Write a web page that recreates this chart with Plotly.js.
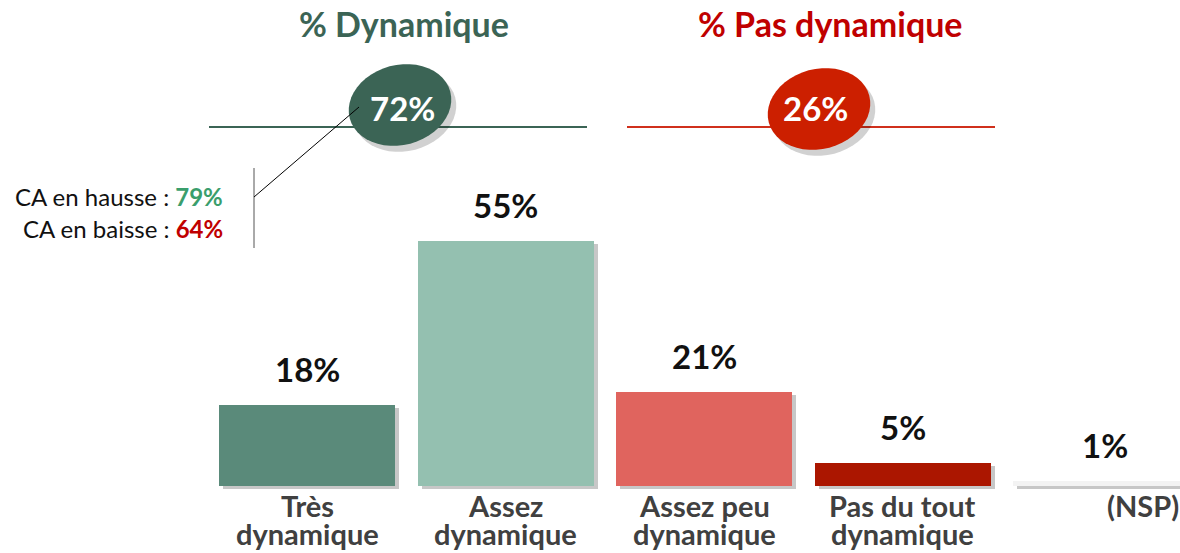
<!DOCTYPE html>
<html><head><meta charset="utf-8">
<script src="https://cdn.plot.ly/plotly-3.0.1.min.js"></script>
<style>html,body{margin:0;padding:0;background:#fff}#chart{width:1180px;height:553px}</style>
</head><body><div id="chart"></div>
<script>
const categories = ['Très<br>dynamique','Assez<br>dynamique','Assez peu<br>dynamique','Pas du tout<br>dynamique','(NSP)'];
const values = [18,55,21,5,1];
const barColors = ['#5a8a7a','#94c0b0','#e0645e','#ab1600','#f3f3f3'];
const groupTitles = ['% Dynamique','% Pas dynamique'];
const groupTotals = [72,26];
const groupTitleColors = ['#3b6455','#c00000'];
const groupFillColors = ['#3b6455','#cc1f00'];
const groupLineColors = ['#3b6455','#d0301c'];
const caLabels = ['CA en hausse : ','CA en baisse : '];
const caValues = [79,64];
const caColors = ['#3a9e6c','#c00000'];

const W = 1180, H = 553;
const FONT = 'Lato, "Open Sans", sans-serif';
const s = 198.6;               // px per category
const xa = -307 / s, xb = xa + W / s;
const ys = 4.45;               // px per percent
const ya = -67.5 / ys, yb = ya + H / ys;
const px = x => x / W, py = y => 1 - y / H;

const xs = values.map((_, i) => i);

// shadow on base axes (drawn first), real bars on overlay axes (drawn on top)
const shadow = {
  type: 'bar', x: xs, y: values, width: 0.886, xaxis: 'x', yaxis: 'y',
  marker: {color: 'rgba(0,0,0,0.22)'}, hoverinfo: 'skip', showlegend: false
};
const bars = {
  type: 'bar', x: xs, y: values, width: 0.886, xaxis: 'x2', yaxis: 'y2',
  marker: {color: barColors}, hoverinfo: 'skip', showlegend: false
};

function ellipsePath(cx, cy, rx, ry, angDeg) {
  const a = angDeg * Math.PI / 180, n = 48;
  let d = '';
  for (let k = 0; k <= n; k++) {
    const t = 2 * Math.PI * k / n;
    const ex = rx * Math.cos(t), ey = ry * Math.sin(t);
    const X = cx + ex * Math.cos(a) - ey * Math.sin(a);
    const Y = cy + ex * Math.sin(a) + ey * Math.cos(a);
    d += (k === 0 ? 'M' : 'L') + px(X).toFixed(5) + ',' + py(Y).toFixed(5);
  }
  return d + 'Z';
}

const groupGeom = [
  {titleX: 404, lineX0: 209, lineX1: 587, ex: 400, ey: 105, tx: 402, ty: 108},
  {titleX: 830, lineX0: 627, lineX1: 995, ex: 819, ey: 109, tx: 815, ty: 108}
];

const shapes = [];
const annotations = [];

groupGeom.forEach((g, i) => {
  shapes.push({type: 'line', xref: 'paper', yref: 'paper', x0: px(g.lineX0), x1: px(g.lineX1), y0: py(127), y1: py(127),
    line: {color: groupLineColors[i], width: 2}});
  shapes.push({type: 'path', xref: 'paper', yref: 'paper', path: ellipsePath(g.ex + 5, g.ey + 6, 52, 40, -15),
    fillcolor: 'rgba(0,0,0,0.18)', line: {width: 0}});
  shapes.push({type: 'path', xref: 'paper', yref: 'paper', path: ellipsePath(g.ex, g.ey, 52, 40, -15),
    fillcolor: groupFillColors[i], line: {width: 0}});
  annotations.push({xref: 'paper', yref: 'paper', x: px(g.titleX), y: py(24), xanchor: 'center', yanchor: 'middle',
    text: '<b>' + groupTitles[i] + '</b>', showarrow: false, font: {family: FONT, size: 34, color: groupTitleColors[i]}});
  annotations.push({xref: 'paper', yref: 'paper', x: px(g.tx), y: py(g.ty), xanchor: 'center', yanchor: 'middle',
    text: '<b>' + groupTotals[i] + '%</b>', showarrow: false, font: {family: FONT, size: 33, color: '#ffffff'}});
});

// callout lines
shapes.push({type: 'line', xref: 'paper', yref: 'paper', x0: px(254), x1: px(254), y0: py(168), y1: py(248),
  line: {color: '#555555', width: 1}});
shapes.push({type: 'line', xref: 'paper', yref: 'paper', x0: px(254), x1: px(359), y0: py(197), y1: py(107),
  line: {color: '#000000', width: 1}});

caLabels.forEach((lab, i) => {
  annotations.push({xref: 'paper', yref: 'paper', x: px(225), y: py(196 + i * 33), xanchor: 'right', yanchor: 'middle',
    text: lab + '<b><span style="color:' + caColors[i] + '">' + caValues[i] + '%</span></b>',
    showarrow: false, font: {family: FONT, size: 24, color: '#111111'}});
});

// value labels + category labels (one annotation per line for tight line spacing)
values.forEach((v, i) => {
  annotations.push({xref: 'x2', yref: 'y2', x: i, y: v, yanchor: 'middle', yshift: 36, text: '<b>' + v + '%</b>',
    showarrow: false, xshift: i === 4 ? 4 : 0, font: {family: FONT, size: 33, color: '#111111'}});
  const lines = categories[i].split('<br>');
  lines.forEach((ln, j) => {
    annotations.push({xref: 'x2', yref: 'y2', x: i, y: 0, yanchor: 'middle', yshift: -(20 + 28 * j),
      text: '<b>' + ln + '</b>', showarrow: false, xshift: i === 4 ? 42 : 0,
      font: {family: FONT, size: 29, color: '#404040'}});
  });
});

const axisBase = {showgrid: false, zeroline: false, showticklabels: false, ticks: '', showline: false, fixedrange: true};
const layout = {
  width: W, height: H, margin: {l: 0, r: 0, t: 0, b: 0},
  paper_bgcolor: '#ffffff', plot_bgcolor: 'rgba(0,0,0,0)',
  xaxis: Object.assign({}, axisBase, {range: [xa - 4 / s, xb - 4 / s]}),
  yaxis: Object.assign({}, axisBase, {range: [ya + 3 / ys, yb + 3 / ys]}),
  xaxis2: Object.assign({}, axisBase, {range: [xa, xb], overlaying: 'x'}),
  yaxis2: Object.assign({}, axisBase, {range: [ya, yb], overlaying: 'y'}),
  shapes: shapes, annotations: annotations, showlegend: false, bargap: 0
};
Plotly.newPlot('chart', [shadow, bars], layout, {displayModeBar: false, staticPlot: true});
</script></body></html>
